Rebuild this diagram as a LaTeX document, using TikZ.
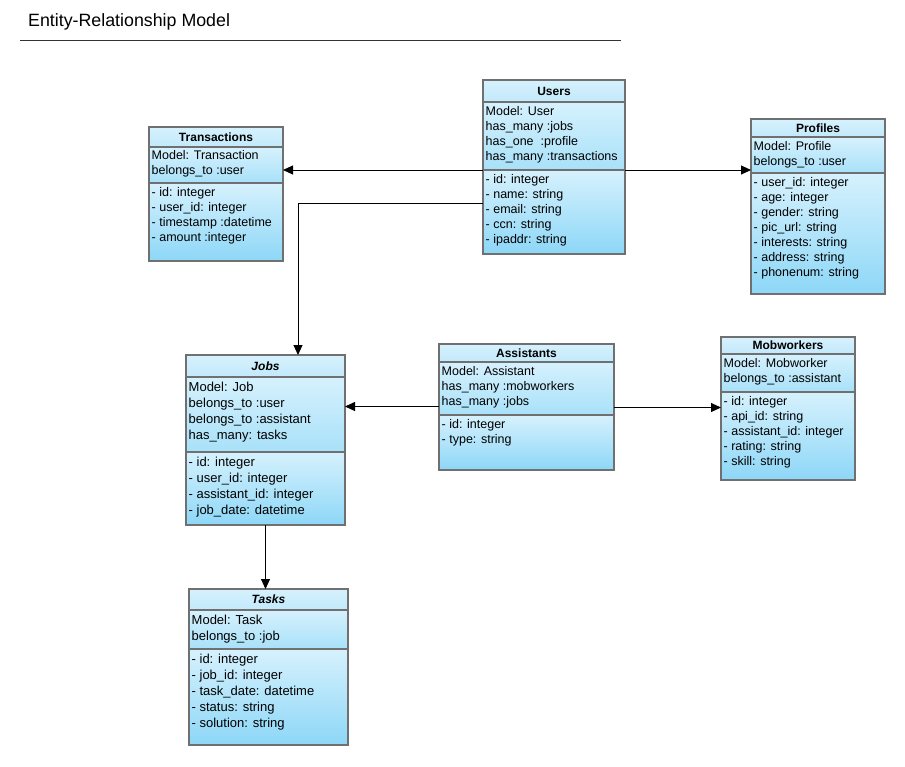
\documentclass[tikz,border=0pt]{standalone}
\usepackage{fontspec}
\setmainfont{Liberation Sans}
\usetikzlibrary{arrows.meta,positioning}
\definecolor{EntBorder}{RGB}{112,112,112}
\definecolor{EntTop}{RGB}{214,241,253}
\definecolor{EntHead}{RGB}{194,233,251}
\definecolor{EntMid}{RGB}{168,225,249}
\definecolor{EntBottom}{RGB}{141,215,247}

\begin{document}
\begin{tikzpicture}[x=1pt, y=-1pt,
    cell/.style={draw=EntBorder, line width=1.6pt, anchor=north west, inner sep=0pt, outer sep=0pt},
    head/.style={cell, top color=EntTop, bottom color=EntHead, font=\fontsize{12}{15}\selectfont\bfseries},
    meth/.style={cell, top color=EntTop, bottom color=EntMid},
    attr/.style={cell, top color=EntTop, bottom color=EntBottom},
    txt/.style={anchor=north west, inner sep=0pt, align=left, font=\fontsize{12.5}{15}\selectfont},
    bigtxt/.style={txt, font=\fontsize{13}{16}\selectfont},
    conn/.style={draw=black, line width=0.9pt, -{Triangle[length=10pt,width=9pt]}}
]
    \fill[white] (0,0) rectangle (905,766);
    \useasboundingbox (0,0) rectangle (905,766);

    % title
    \node[anchor=west, inner sep=0pt, font=\fontsize{17.8}{21}\selectfont] (title) at (28,22) {Entity-Relationship Model};
    \draw[line width=0.8pt, black!80] (20,40) -- (621,40);

    % Users
    \node[head, minimum width=142, minimum height=22] (users-h) at (483,80) {Users};
    \node[meth, minimum width=142, minimum height=68] (users-m) at (483,102) {};
    \node[attr, minimum width=142, minimum height=84] (users-a) at (483,170) {};
    \node[txt, below right=4.5pt and 2.5pt of users-m.north west] (users-mt) {Model: User\\has\_many :jobs\\has\_one~~:profile\\has\_many :transactions};
    \node[txt, below right=4.5pt and 2.5pt of users-a.north west] (users-at) {- id: integer\\- name: string\\- email: string\\- ccn: string\\- ipaddr: string};

    % Transactions
    \node[head, minimum width=134, minimum height=20] (trans-h) at (149,127) {Transactions};
    \node[meth, minimum width=134, minimum height=36] (trans-m) at (149,147) {};
    \node[attr, minimum width=134, minimum height=78] (trans-a) at (149,183) {};
    \node[txt, below right=3.5pt and 2.5pt of trans-m.north west] (trans-mt) {Model: Transaction\\belongs\_to :user};
    \node[txt, below right=4.5pt and 2.5pt of trans-a.north west] (trans-at) {- id: integer\\- user\_id: integer\\- timestamp :datetime\\- amount :integer};

    % Profiles
    \node[head, minimum width=134, minimum height=18] (prof-h) at (751,119) {Profiles};
    \node[meth, minimum width=134, minimum height=36] (prof-m) at (751,137) {};
    \node[attr, minimum width=134, minimum height=121] (prof-a) at (751,173) {};
    \node[txt, below right=4.5pt and 2.5pt of prof-m.north west] (prof-mt) {Model: Profile\\belongs\_to :user};
    \node[txt, below right=4.5pt and 2.5pt of prof-a.north west] (prof-at) {- user\_id: integer\\- age: integer\\- gender: string\\- pic\_url: string\\- interests: string\\- address: string\\- phonenum: string};

    % Jobs
    \node[head, minimum width=159, minimum height=22, font=\fontsize{12}{15}\selectfont\bfseries\itshape] (jobs-h) at (186,355) {Jobs};
    \node[meth, minimum width=159, minimum height=75] (jobs-m) at (186,377) {};
    \node[attr, minimum width=159, minimum height=73] (jobs-a) at (186,452) {};
    \node[bigtxt, below right=4.5pt and 2.5pt of jobs-m.north west] (jobs-mt) {Model: Job\\belongs\_to :user\\belongs\_to :assistant\\has\_many: tasks};
    \node[bigtxt, below right=4.5pt and 2.5pt of jobs-a.north west] (jobs-at) {- id: integer\\- user\_id: integer\\- assistant\_id: integer\\- job\_date: datetime};

    % Assistants
    \node[head, minimum width=175, minimum height=18] (asst-h) at (439,344) {Assistants};
    \node[meth, minimum width=175, minimum height=53] (asst-m) at (439,362) {};
    \node[attr, minimum width=175, minimum height=55] (asst-a) at (439,415) {};
    \node[txt, below right=4.5pt and 2.5pt of asst-m.north west] (asst-mt) {Model: Assistant\\has\_many :mobworkers\\has\_many :jobs};
    \node[txt, below right=4.5pt and 2.5pt of asst-a.north west] (asst-at) {- id: integer\\- type: string};

    % Mobworkers
    \node[head, minimum width=134, minimum height=17] (mob-h) at (721,337) {Mobworkers};
    \node[meth, minimum width=134, minimum height=38] (mob-m) at (721,354) {};
    \node[attr, minimum width=134, minimum height=88] (mob-a) at (721,392) {};
    \node[txt, below right=4.5pt and 2.5pt of mob-m.north west] (mob-mt) {Model: Mobworker\\belongs\_to :assistant};
    \node[txt, below right=4pt and 2.5pt of mob-a.north west] (mob-at) {- id: integer\\- api\_id: string\\- assistant\_id: integer\\- rating: string\\- skill: string};

    % Tasks
    \node[head, minimum width=159, minimum height=21, font=\fontsize{12}{15}\selectfont\bfseries\itshape] (tasks-h) at (189,589) {Tasks};
    \node[meth, minimum width=159, minimum height=39] (tasks-m) at (189,610) {};
    \node[attr, minimum width=159, minimum height=96] (tasks-a) at (189,649) {};
    \node[bigtxt, below right=4.5pt and 2.5pt of tasks-m.north west] (tasks-mt) {Model: Task\\belongs\_to :job};
    \node[bigtxt, below right=4.5pt and 2.5pt of tasks-a.north west] (tasks-at) {- id: integer\\- job\_id: integer\\- task\_date: datetime\\- status: string\\- solution: string};

    % relations
    \draw[conn] (users-a.north west) -- (users-a.north west -| trans-m.east);
    \draw[conn] (users-a.north east) -- (users-a.north east -| prof-m.west);
    \draw[conn] ([yshift=9pt]users-a.west) -| ([xshift=32.5pt]jobs-h.north);
    \draw[conn] ([yshift=-18pt]asst-m.west) -- ([yshift=-18pt]asst-m.west -| jobs-m.east);
    \draw[conn] ([yshift=-19pt]asst-m.east) -- ([yshift=-19pt]asst-m.east -| mob-a.west);
    \draw[conn] (jobs-a.south) -- (jobs-a.south |- tasks-h.north);
\end{tikzpicture}
\end{document}
